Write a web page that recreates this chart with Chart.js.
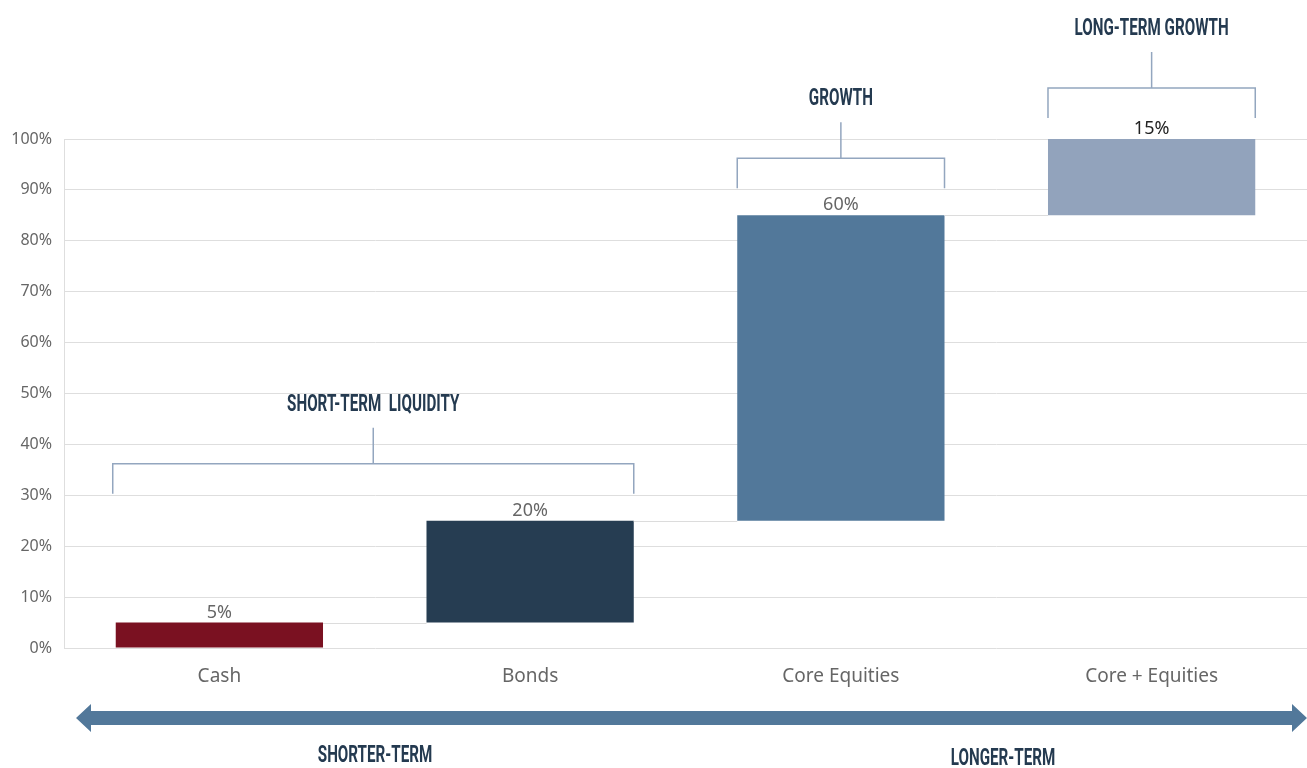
<!DOCTYPE html>
<html>
<head>
<meta charset="utf-8">
<script src="https://cdn.jsdelivr.net/npm/chart.js@4.4.1/dist/chart.umd.min.js"></script>
<style>
  html, body { margin: 0; padding: 0; background: #fff; }
  .wrap { width: 1307px; height: 768px; position: relative; }
</style>
</head>
<body>
<div class="wrap"><canvas id="myChart"></canvas></div>
<script>
// data
const categories = ['Cash', 'Bonds', 'Core Equities', 'Core + Equities'];
const allocations = [5, 20, 60, 15];
const barColors = ['#7a1121', '#263d52', '#52789a', '#92a3bc'];
const labelColors = ['#666666', '#666666', '#666666', '#222222'];
const yTicks = [0, 10, 20, 30, 40, 50, 60, 70, 80, 90, 100];
const groups = [
    { label: 'SHORT-TERM  LIQUIDITY', from: 0, to: 1 },
    { label: 'GROWTH', from: 2, to: 2 },
    { label: 'LONG-TERM GROWTH', from: 3, to: 3 }
];

// floating bars, each one starts where the previous ended
const ranges = [];
let running = 0;
allocations.forEach(v => {
    ranges.push([running, running + v]);
    running += v;
});

const headFont = 'bold 23px Roboto, sans-serif';
const navy = '#243a50';
const bracketColor = '#93a6bf';

// squeezed heading text, the original uses a condensed display face
function heading(c, text, x, y) {
    c.save();
    c.translate(x, y);
    c.scale(0.66, 1);
    c.font = headFont;
    c.fillStyle = navy;
    c.textAlign = 'center';
    c.textBaseline = 'middle';
    c.fillText(text, 0, 0);
    c.restore();
}

const extras = {
    id: 'extras',
    afterDatasetsDraw(chart) {
        const c = chart.ctx;
        const y = chart.scales.y;
        const bars = chart.getDatasetMeta(0).data;

        // connectors between bars
        c.save();
        c.strokeStyle = '#dcdcdc';
        c.lineWidth = 1;
        for (let i = 0; i < bars.length - 1; i++) {
            const py = Math.round(y.getPixelForValue(ranges[i][1])) + 0.5;
            c.beginPath();
            c.moveTo(bars[i].x + bars[i].width / 2, py);
            c.lineTo(bars[i + 1].x - bars[i + 1].width / 2, py);
            c.stroke();
        }

        // value labels
        c.font = '18px "Noto Sans", sans-serif';
        c.textAlign = 'center';
        c.textBaseline = 'bottom';
        bars.forEach((b, i) => {
            c.fillStyle = labelColors[i];
            c.fillText(allocations[i] + '%', b.x, y.getPixelForValue(ranges[i][1]) - 1);
        });

        // brackets
        c.strokeStyle = bracketColor;
        c.lineWidth = 1.5;
        groups.forEach(g => {
            const left = bars[g.from].x - bars[g.from].width / 2 - (g.from === 0 ? 3 : 0);
            const right = bars[g.to].x + bars[g.to].width / 2;
            const top = y.getPixelForValue(ranges[g.to][1]);
            const legBottom = top - (ranges[g.to][1] >= 100 ? 21 : 27);
            const bar = legBottom - 30;
            const stemTop = bar - 36;
            const mid = (left + right) / 2;
            c.beginPath();
            c.moveTo(left, legBottom);
            c.lineTo(left, bar);
            c.lineTo(right, bar);
            c.lineTo(right, legBottom);
            c.moveTo(mid, bar);
            c.lineTo(mid, stemTop);
            c.stroke();
            heading(c, g.label, mid, stemTop - 23);
        });

        // double arrow
        c.fillStyle = '#52789a';
        const ay = 718, x0 = 76, x1 = 1307, hl = 15, hh = 14, sh = 7;
        c.beginPath();
        c.moveTo(x0, ay);
        c.lineTo(x0 + hl, ay - hh);
        c.lineTo(x0 + hl, ay - sh);
        c.lineTo(x1 - hl, ay - sh);
        c.lineTo(x1 - hl, ay - hh);
        c.lineTo(x1, ay);
        c.lineTo(x1 - hl, ay + hh);
        c.lineTo(x1 - hl, ay + sh);
        c.lineTo(x0 + hl, ay + sh);
        c.lineTo(x0 + hl, ay + hh);
        c.closePath();
        c.fill();

        heading(c, 'SHORTER-TERM', 375, 756);
        heading(c, 'LONGER-TERM', 1003, 759);
        c.restore();
    }
};

const ctx = document.getElementById('myChart');

new Chart(ctx, {
    type: 'bar',
    data: {
        labels: categories,
        datasets: [{
            data: ranges,
            backgroundColor: barColors,
            borderWidth: 0,
            categoryPercentage: 0.667,
            barPercentage: 1
        }]
    },
    options: {
        responsive: true,
        maintainAspectRatio: false,
        animation: false,
        layout: {
            padding: { top: 139, right: 0, bottom: 0, left: 0 }
        },
        scales: {
            x: {
                grid: { display: false },
                border: { display: false },
                ticks: {
                    color: '#666',
                    padding: 9,
                    font: { family: '"Noto Sans", sans-serif', size: 19 }
                },
                afterFit(scale) { scale.height = 120; }
            },
            y: {
                min: 0,
                max: 100,
                afterBuildTicks(scale) {
                    scale.ticks = yTicks.map(v => ({ value: v }));
                },
                grid: { color: '#dedede', drawTicks: false },
                border: { display: true, color: '#dedede' },
                ticks: {
                    color: '#666',
                    padding: 12,
                    font: { family: '"Noto Sans", sans-serif', size: 16 },
                    callback: v => v + '%'
                },
                afterFit(scale) { scale.width = 64; }
            }
        },
        plugins: {
            legend: { display: false },
            tooltip: { enabled: false }
        }
    },
    plugins: [extras]
});
</script>
</body>
</html>
